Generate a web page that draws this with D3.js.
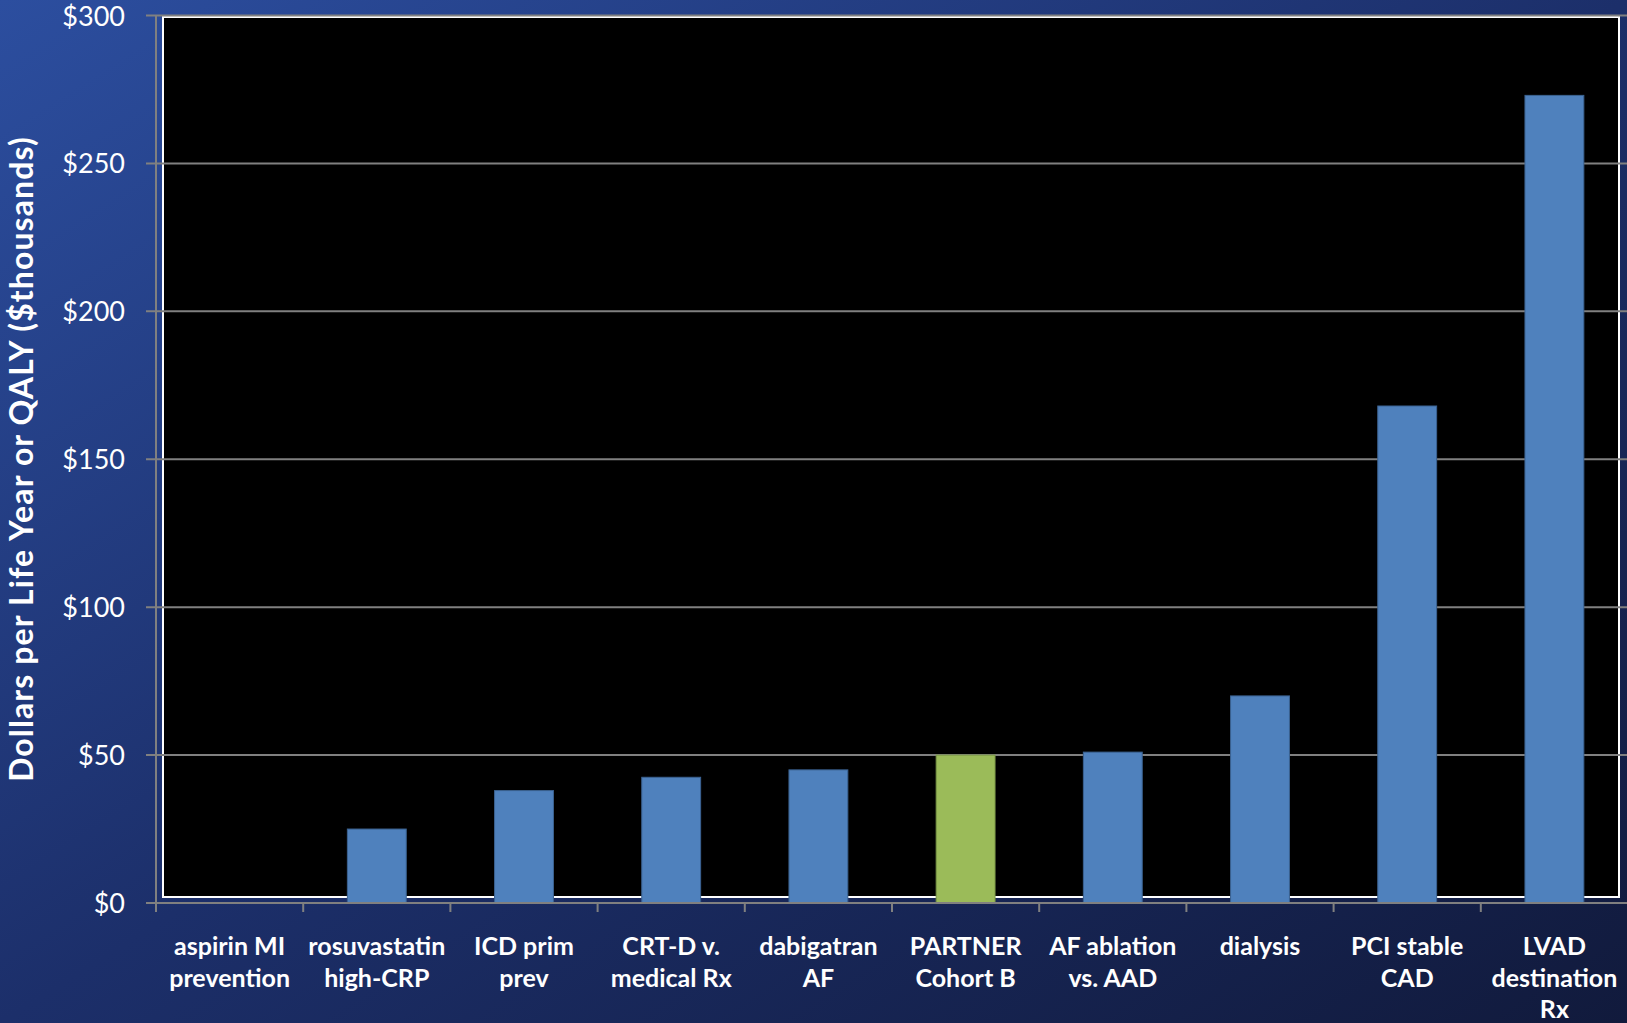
<!DOCTYPE html>
<html>
<head>
<meta charset="utf-8">
<script src="https://d3js.org/d3.v7.min.js"></script>
<style>
  html, body { margin: 0; padding: 0; overflow: hidden; }
  body { width: 1627px; height: 1023px; }
</style>
</head>
<body>
<div id="chartContainer"></div>
<script>
// categories (line breaks split the axis labels)
var categories = [
  "aspirin MI\nprevention", "rosuvastatin\nhigh-CRP", "ICD prim\nprev",
  "CRT-D v.\nmedical Rx", "dabigatran\nAF", "PARTNER\nCohort B",
  "AF ablation\nvs. AAD", "dialysis", "PCI stable\nCAD", "LVAD\ndestination\nRx"
];
// cost per life year / QALY, $ thousands
var values = [0, 25, 38, 42.5, 45, 50, 51, 70, 168, 273];
var highlighted = ["PARTNER\nCohort B"];
var yTicks = [0, 50, 100, 150, 200, 250, 300];

var W = 1627, H = 1023;
var plotLeft = 156, plotRight = 1628, plotTop = 15.5, plotBottom = 903;

var svg = d3.select("#chartContainer").append("svg")
  .attr("width", W).attr("height", H);

// background gradient
var defs = svg.append("defs");
var grad = defs.append("linearGradient").attr("id", "bg")
  .attr("x1", "0").attr("y1", "0").attr("x2", "1").attr("y2", "1");
grad.append("stop").attr("offset", "0%").attr("stop-color", "#2c4e9f");
grad.append("stop").attr("offset", "50%").attr("stop-color", "#1c2f6a");
grad.append("stop").attr("offset", "100%").attr("stop-color", "#111a3c");
svg.append("rect").attr("width", W).attr("height", H).attr("fill", "url(#bg)");

var x = d3.scaleBand().domain(categories).range([plotLeft, plotRight])
  .paddingInner(0.6).paddingOuter(0.3);
var y = d3.scaleLinear().domain([0, 300]).range([plotBottom, plotTop]);

// black plot area with white border
svg.append("rect")
  .attr("x", 163).attr("y", 17)
  .attr("width", 1456).attr("height", 880)
  .attr("fill", "#000").attr("stroke", "#fff").attr("stroke-width", 2);

// gridlines + y ticks
svg.append("g").selectAll("line").data(yTicks.filter(d => d > 0)).join("line")
  .attr("x1", plotLeft - 10).attr("x2", W)
  .attr("y1", d => y(d)).attr("y2", d => y(d))
  .attr("stroke", "#808080").attr("stroke-width", 2);

// bars
svg.append("g").selectAll("rect").data(categories).join("rect")
  .attr("x", d => x(d))
  .attr("width", x.bandwidth())
  .attr("y", (d, i) => y(values[i]))
  .attr("height", (d, i) => plotBottom - y(values[i]))
  .attr("fill", d => highlighted.includes(d) ? "#9bbb59" : "#4f81bd")
  .attr("stroke", d => highlighted.includes(d) ? "#7a9646" : "#3b6291")
  .attr("stroke-width", (d, i) => values[i] > 0 ? 1 : 0);

// y axis
svg.append("line").attr("x1", plotLeft).attr("x2", plotLeft)
  .attr("y1", plotTop).attr("y2", plotBottom)
  .attr("stroke", "#808080").attr("stroke-width", 2);
svg.append("line").attr("x1", plotLeft - 10).attr("x2", plotLeft)
  .attr("y1", plotBottom).attr("y2", plotBottom)
  .attr("stroke", "#808080").attr("stroke-width", 2);
svg.append("g").selectAll("text").data(yTicks).join("text")
  .attr("x", 125).attr("y", d => y(d) + 10)
  .attr("text-anchor", "end")
  .attr("fill", "#fff")
  .style("font-family", "Lato, sans-serif")
  .style("font-size", "27px")
  .text(d => "$" + d);

// x axis
svg.append("line").attr("x1", plotLeft - 10).attr("x2", W)
  .attr("y1", plotBottom).attr("y2", plotBottom)
  .attr("stroke", "#808080").attr("stroke-width", 2);
var step = x.step();
svg.append("g").selectAll("line").data(d3.range(categories.length + 1)).join("line")
  .attr("x1", i => plotLeft + i * step).attr("x2", i => plotLeft + i * step)
  .attr("y1", plotBottom).attr("y2", plotBottom + 9)
  .attr("stroke", "#808080").attr("stroke-width", 2);

var labels = svg.append("g").selectAll("text").data(categories).join("text")
  .attr("text-anchor", "middle")
  .attr("fill", "#fff")
  .style("font-family", "Lato, sans-serif")
  .style("font-weight", "bold")
  .style("font-size", "25px")
  .attr("transform", d => "translate(" + (x(d) + x.bandwidth() / 2) + ",955)");
labels.selectAll("tspan").data(d => d.split("\n")).join("tspan")
  .attr("x", 0).attr("y", (d, i) => i * 31.5)
  .text(d => d);

// y axis title
svg.append("text")
  .attr("transform", "translate(33,459) rotate(-90)")
  .attr("text-anchor", "middle")
  .attr("fill", "#fff")
  .style("font-family", "Lato, sans-serif")
  .style("font-weight", "bold")
  .style("font-size", "32px")
  .style("letter-spacing", "1.1px")
  .text("Dollars per Life Year or QALY ($thousands)");
</script>
</body>
</html>
